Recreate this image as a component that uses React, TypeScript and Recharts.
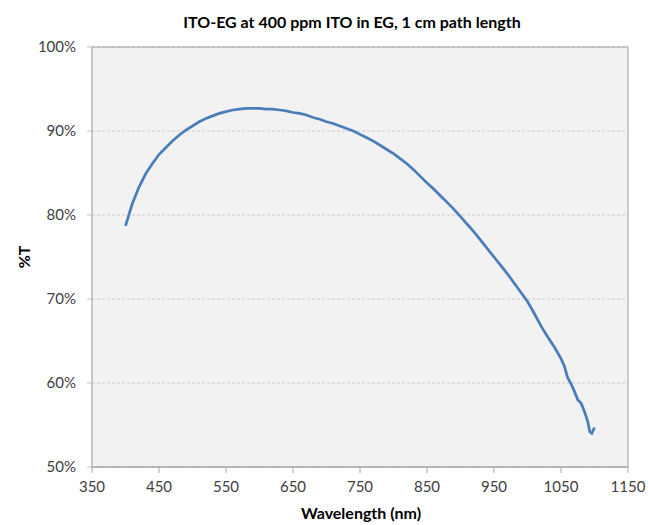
import React from "react";
import {
  LineChart,
  Line,
  XAxis,
  YAxis,
  CartesianGrid,
  ReferenceArea,
} from "recharts";

const chartTitle = "ITO-EG at 400 ppm ITO in EG, 1 cm path length";
const xAxisTitle = "Wavelength (nm)";
const yAxisTitle = "%T";

const wavelengths = [
  400, 410, 420, 430, 440, 450, 460, 470, 480, 490, 500, 510, 520, 530, 540,
  550, 560, 570, 580, 590, 600, 610, 620, 630, 640, 650, 660, 670, 680, 690,
  700, 710, 720, 730, 740, 750, 760, 770, 780, 790, 800, 810, 820, 830, 840,
  850, 860, 870, 880, 890, 900, 910, 920, 930, 940, 950, 960, 970, 980, 990,
  1000, 1010, 1020, 1030, 1040, 1050, 1055, 1060, 1065, 1070, 1075, 1080,
  1085, 1090, 1093, 1096, 1100,
];

const transmittance = [
  78.7, 81.3, 83.3, 84.9, 86.1, 87.2, 88.0, 88.8, 89.5, 90.1, 90.6, 91.1,
  91.5, 91.8, 92.1, 92.3, 92.5, 92.6, 92.7, 92.7, 92.7, 92.6, 92.6, 92.5,
  92.4, 92.2, 92.1, 91.9, 91.6, 91.4, 91.1, 90.9, 90.6, 90.3, 90.0, 89.6,
  89.2, 88.8, 88.3, 87.8, 87.3, 86.7, 86.1, 85.4, 84.6, 83.8, 83.1, 82.3,
  81.5, 80.7, 79.8, 78.9, 78.0, 77.0, 76.0, 75.0, 74.0, 73.0, 71.9, 70.8,
  69.7, 68.3, 66.8, 65.5, 64.3, 62.9, 62.0, 60.6, 59.9, 59.0, 58.0, 57.6,
  56.6, 55.4, 54.2, 54.0, 54.7,
];

const xTicks = [350, 450, 550, 650, 750, 850, 950, 1050, 1150];
const yTicks = [50, 60, 70, 80, 90, 100];

const data = wavelengths.map((w, i) => ({ w, t: transmittance[i] }));

const FONT = "Lato, 'Open Sans', sans-serif";
const titleStyle = { fontFamily: FONT, fontWeight: 700, fontSize: 16, fill: "#000" };

export default function App() {
  return (
    <div style={{ position: "absolute", left: 0, top: 0, width: 648, height: 525, background: "#fff" }}>
      <LineChart
        width={648}
        height={525}
        data={data}
        margin={{ top: 47, right: 20, bottom: 0, left: 0 }}
      >
        <text x={352} y={28} textAnchor="middle" style={titleStyle}>
          {chartTitle}
        </text>
        <text x={361} y={519} textAnchor="middle" style={titleStyle}>
          {xAxisTitle}
        </text>
        <text
          x={0}
          y={0}
          textAnchor="middle"
          transform="translate(30 257) rotate(-90)"
          style={titleStyle}
        >
          {yAxisTitle}
        </text>
        <CartesianGrid
          vertical={false}
          fill="#f2f2f2"
          stroke="#cccccc"
          strokeDasharray="3 2"
        />
        <XAxis
          dataKey="w"
          type="number"
          domain={[350, 1150]}
          ticks={xTicks}
          interval={0}
          height={58}
          tickSize={6}
          tickMargin={8}
          stroke="#a6a6a6"
          tick={{ fill: "#404040", fontSize: 15, fontFamily: FONT }}
          allowDataOverflow
        />
        <YAxis
          type="number"
          domain={[50, 100]}
          ticks={yTicks}
          interval={0}
          width={92}
          tickSize={5}
          tickMargin={11}
          stroke="#bfbfbf"
          tickFormatter={(v: number) => `${v}%`}
          tick={{ fill: "#404040", fontSize: 15, fontFamily: FONT }}
          allowDataOverflow
        />
        <ReferenceArea
          x1={350}
          x2={1150}
          y1={50}
          y2={100}
          fill="none"
          stroke="#a0a0a0"
          strokeWidth={1}
          ifOverflow="visible"
        />
        <Line
          type="linear"
          dataKey="t"
          stroke="#4a7ebb"
          strokeWidth={2.75}
          dot={false}
          isAnimationActive={false}
        />
      </LineChart>
    </div>
  );
}
